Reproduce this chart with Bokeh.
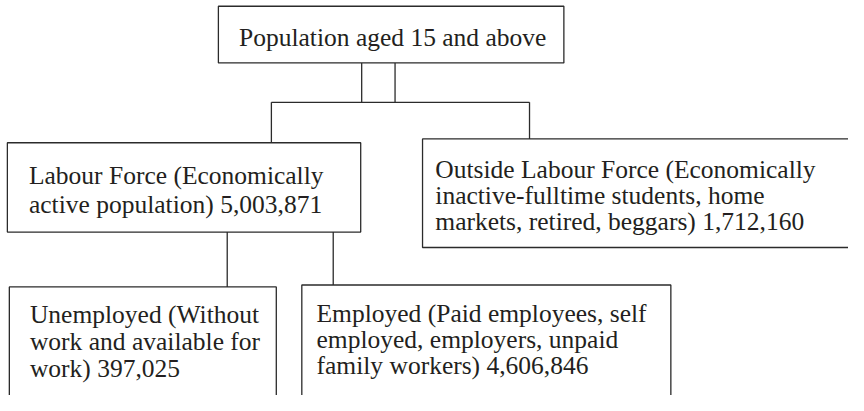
from bokeh.plotting import figure
from bokeh.models import Range1d, ColumnDataSource
from bokeh.core.properties import value
from bokeh.embed import file_html
from bokeh.resources import INLINE

# ---- data ----
node_names = ["Population aged 15 and above", "Labour Force", "Outside Labour Force",
              "Unemployed", "Employed"]
node_desc = ["",
             "Economically active population",
             "Economically inactive-fulltime students, home markets, retired, beggars",
             "Without work and available for work",
             "Paid employees, self employed, employers, unpaid family workers"]
node_values = [None, 5003871, 1712160, 397025, 4606846]

# ---- layout (reference pixel coordinates) ----
box_left = [222, 7, 430, 9, 307]
box_right = [574, 367, 900, 281, 683]
box_top = [6, 148, 144, 298, 296]
box_bottom = [65, 241, 257, 460, 460]
text_x = [243, 29, 443, 30, 322]
text_y0 = [38, 182, 176, 327, 326]
line_gap = [28, 30, 27, 28, 27]
words_per_line = [[5], [3, 3], [4, 3, 4], [2, 4, 2], [4, 3, 3]]

conn_x0 = [368, 402, 276, 276, 539, 231, 339]
conn_y0 = [65, 65, 106, 106, 106, 241, 241]
conn_x1 = [368, 402, 539, 276, 539, 231, 339]
conn_y1 = [106, 106, 106, 148, 144, 298, 296]

INK = "#2b2b2b"
TXT = "#231f20"

p = figure(width=848, height=395, output_backend="svg", toolbar_location=None,
           x_range=Range1d(0, 864), y_range=Range1d(411, 0),
           min_border=0, background_fill_color="white", border_fill_color="white")
p.axis.visible = False
p.grid.visible = False
p.outline_line_color = None

p.segment(x0=conn_x0, y0=conn_y0, x1=conn_x1, y1=conn_y1, line_color=INK, line_width=1.3)
p.quad(left=box_left, right=box_right, top=box_top, bottom=box_bottom,
       fill_color="white", line_color=INK, line_width=1.3)

xs, ys, texts = [], [], []
for i, name in enumerate(node_names):
    label = name
    if node_desc[i]:
        label += f" ({node_desc[i]})"
    if node_values[i] is not None:
        label += f" {node_values[i]:,}"
    words = label.split(" ")
    k = 0
    for j, n in enumerate(words_per_line[i]):
        xs.append(text_x[i])
        ys.append(text_y0[i] + j * line_gap[i])
        texts.append(" ".join(words[k:k + n]))
        k += n

src = ColumnDataSource(dict(x=xs, y=ys, text=texts))
p.text(x="x", y="y", text="text", source=src, text_font=value("Liberation Serif"),
       text_font_size="25.5px", text_baseline="alphabetic", text_align="left",
       text_color=TXT)

open("out.html", "w").write(file_html(p, INLINE))
